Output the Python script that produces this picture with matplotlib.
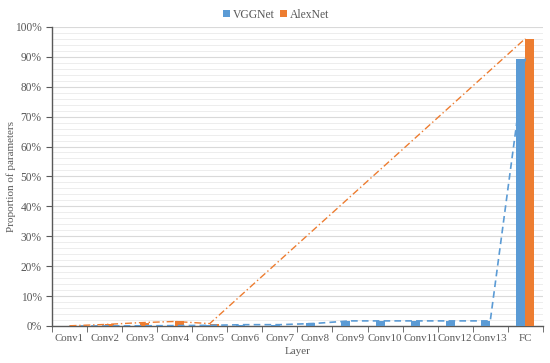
import numpy as np
import matplotlib
matplotlib.use("Agg")
import matplotlib.pyplot as plt
from matplotlib.ticker import MultipleLocator, PercentFormatter

plt.rcParams.update({'font.size': 8, 'font.family': 'serif', 'font.serif': ['Liberation Serif']})

BLUE = "#5B9BD5"; ORANGE = "#ED7D31"; GREY = "#595959"

layers = ["Conv1", "Conv2", "Conv3", "Conv4", "Conv5", "Conv6", "Conv7",
          "Conv8", "Conv9", "Conv10", "Conv11", "Conv12", "Conv13", "FC"]
vggnet = [0.0013, 0.027, 0.05, 0.11, 0.21, 0.43, 0.43, 0.85, 1.7, 1.7, 1.7, 1.7, 1.7, 89.4]
alexnet = [0.06, 0.5, 1.1, 1.5, 0.8, np.nan, np.nan, np.nan, np.nan, np.nan, np.nan, np.nan, np.nan, 96.1]

fig = plt.figure(figsize=(5.5, 3.63), dpi=100)
ax = fig.add_axes([0.0945, 0.102, 0.8925, 0.824])

x = np.arange(len(layers))
w = 0.26
ax.bar(x - w/2, vggnet, w, color=BLUE, label="VGGNet", zorder=3)
ax.bar(x + w/2, alexnet, w, color=ORANGE, label="AlexNet", zorder=3)

# trend lines (skip missing AlexNet layers)
ax.plot(x, vggnet, ls=(0, (4, 2.5)), color=BLUE, lw=1.2, zorder=4)
am = ~np.isnan(alexnet)
ax.plot(x[am], np.array(alexnet)[am], ls=(0, (5, 2, 1, 2)), color=ORANGE, lw=1.0, zorder=4)

ax.set_xlim(-0.5, len(layers) - 0.5)
ax.set_ylim(0, 100)
ax.yaxis.set_major_locator(MultipleLocator(10))
ax.yaxis.set_minor_locator(MultipleLocator(2))
ax.yaxis.set_major_formatter(PercentFormatter(decimals=0))
ax.grid(which='major', axis='y', color='#D9D9D9', lw=0.8, zorder=0)
ax.grid(which='minor', axis='y', color='#EAEAEA', lw=0.6, zorder=0)

ax.set_xticks(x)
ax.set_xticklabels(layers)
ax.set_xticks(np.arange(-0.5, len(layers)), minor=True)
ax.tick_params(axis='x', which='major', length=0, pad=6, colors=GREY, labelsize=7.8)
ax.tick_params(axis='x', which='minor', length=4, color=GREY)
ax.tick_params(axis='y', which='major', length=4, color=GREY, labelcolor=GREY, labelsize=8.3)
ax.tick_params(axis='y', which='minor', length=0)

for s in ['top', 'right']:
    ax.spines[s].set_visible(False)
for s in ['left', 'bottom']:
    ax.spines[s].set_color(GREY)
    ax.spines[s].set_linewidth(1.0)

ax.set_xlabel("Layer", color=GREY, labelpad=3)
fig.text(0.02, 0.514, "Proportion of parameters", rotation=90, ha='center', va='center', color=GREY)

fig.legend(loc='upper center', bbox_to_anchor=(0.502, 1.005), ncol=2, frameon=False,
           handlelength=0.6, handleheight=0.6, handletextpad=0.25, columnspacing=0.5,
           labelcolor=GREY, fontsize=8.4)

fig.savefig("out.png", dpi=100, facecolor='white')
